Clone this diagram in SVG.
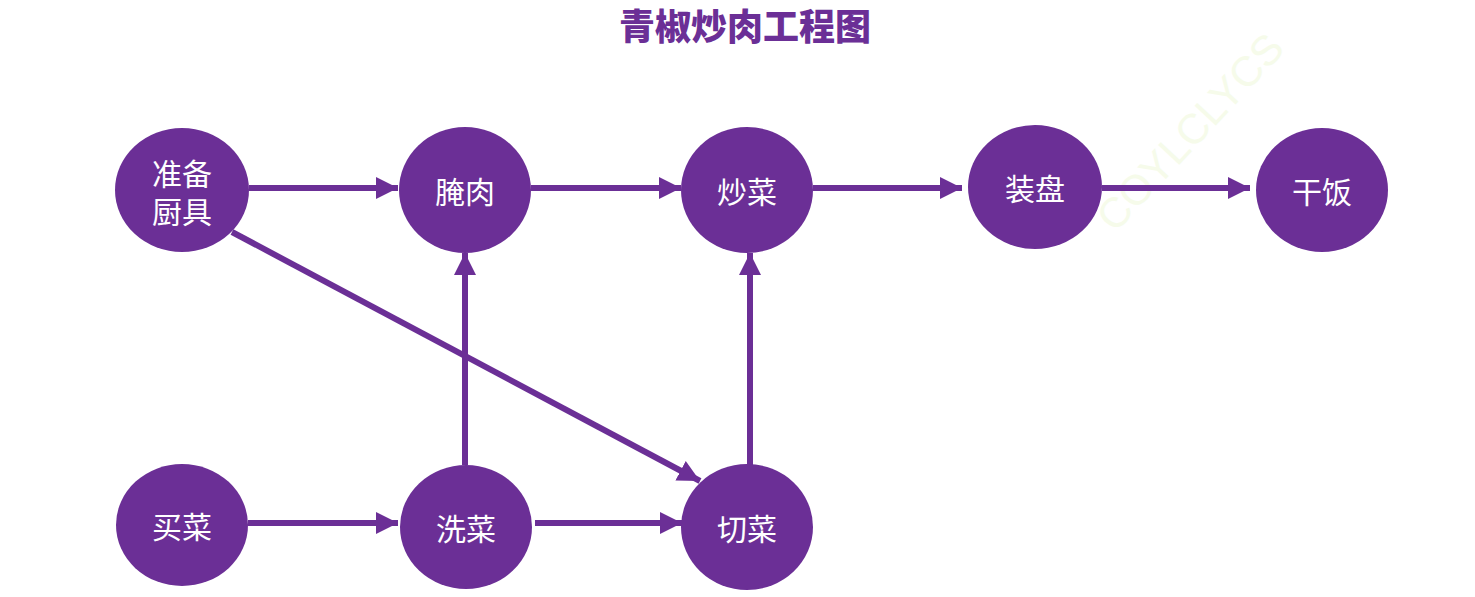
<svg xmlns="http://www.w3.org/2000/svg" width="1475" height="597" viewBox="0 0 1475 597">
<style>
.n{fill:#6B2F96}
.t{fill:#ffffff;font-family:"Noto Sans CJK SC","Noto Sans",sans-serif;font-size:30px;text-anchor:middle;dominant-baseline:central}
.e{stroke:#6B2F96;stroke-width:6;fill:none}
</style>
<defs>
<marker id="ah" markerUnits="userSpaceOnUse" markerWidth="24" markerHeight="24" refX="22" refY="12" orient="auto">
<path d="M0,1 L22,12 L0,23 Z" fill="#6B2F96"/>
</marker>
</defs>
<rect width="1475" height="597" fill="#ffffff"/>
<text x="745" y="24" fill="#6B2F96" font-family="'Noto Sans CJK SC',sans-serif" font-size="36" font-weight="900" text-anchor="middle" dominant-baseline="central">青椒炒肉工程图</text>
<text x="1190" y="132" fill="#f4fbe6" font-family="'Liberation Sans',sans-serif" font-size="42" text-anchor="middle" dominant-baseline="central" transform="rotate(-47 1190 132)" opacity="0.8">COYLCLYCS</text>
<g id="connectors">
<line class="e" x1="249" y1="188" x2="398" y2="188" marker-end="url(#ah)"/>
<line class="e" x1="531" y1="188" x2="681" y2="188" marker-end="url(#ah)"/>
<line class="e" x1="813" y1="188" x2="962" y2="188" marker-end="url(#ah)"/>
<line class="e" x1="1102" y1="188" x2="1250" y2="188" marker-end="url(#ah)"/>
<line class="e" x1="248" y1="523" x2="398" y2="523" marker-end="url(#ah)"/>
<line class="e" x1="535" y1="523" x2="682" y2="523" marker-end="url(#ah)"/>
<line class="e" x1="465" y1="465" x2="465" y2="253" marker-end="url(#ah)"/>
<line class="e" x1="750" y1="465" x2="750" y2="253" marker-end="url(#ah)"/>
<line class="e" x1="232" y1="232" x2="700" y2="481" marker-end="url(#ah)"/>
</g>
<g id="n1"><ellipse class="n" cx="182" cy="190" rx="67" ry="62"/><text class="t" x="182" y="172">准备<tspan x="182" dy="38">厨具</tspan></text></g>
<g id="n2"><ellipse class="n" cx="465" cy="190" rx="66" ry="63"/><text class="t" x="465" y="190">腌肉</text></g>
<g id="n3"><ellipse class="n" cx="747" cy="190" rx="66" ry="63"/><text class="t" x="747" y="190">炒菜</text></g>
<g id="n4"><ellipse class="n" cx="1035" cy="187" rx="67" ry="62"/><text class="t" x="1035" y="187">装盘</text></g>
<g id="n5"><ellipse class="n" cx="1322" cy="190" rx="66" ry="62"/><text class="t" x="1322" y="190">干饭</text></g>
<g id="n6"><ellipse class="n" cx="182" cy="525" rx="66" ry="61"/><text class="t" x="182" y="525">买菜</text></g>
<g id="n7"><ellipse class="n" cx="466" cy="527" rx="66" ry="62"/><text class="t" x="466" y="527">洗菜</text></g>
<g id="n8"><ellipse class="n" cx="747" cy="527" rx="66" ry="63"/><text class="t" x="747" y="527">切菜</text></g>
</svg>
